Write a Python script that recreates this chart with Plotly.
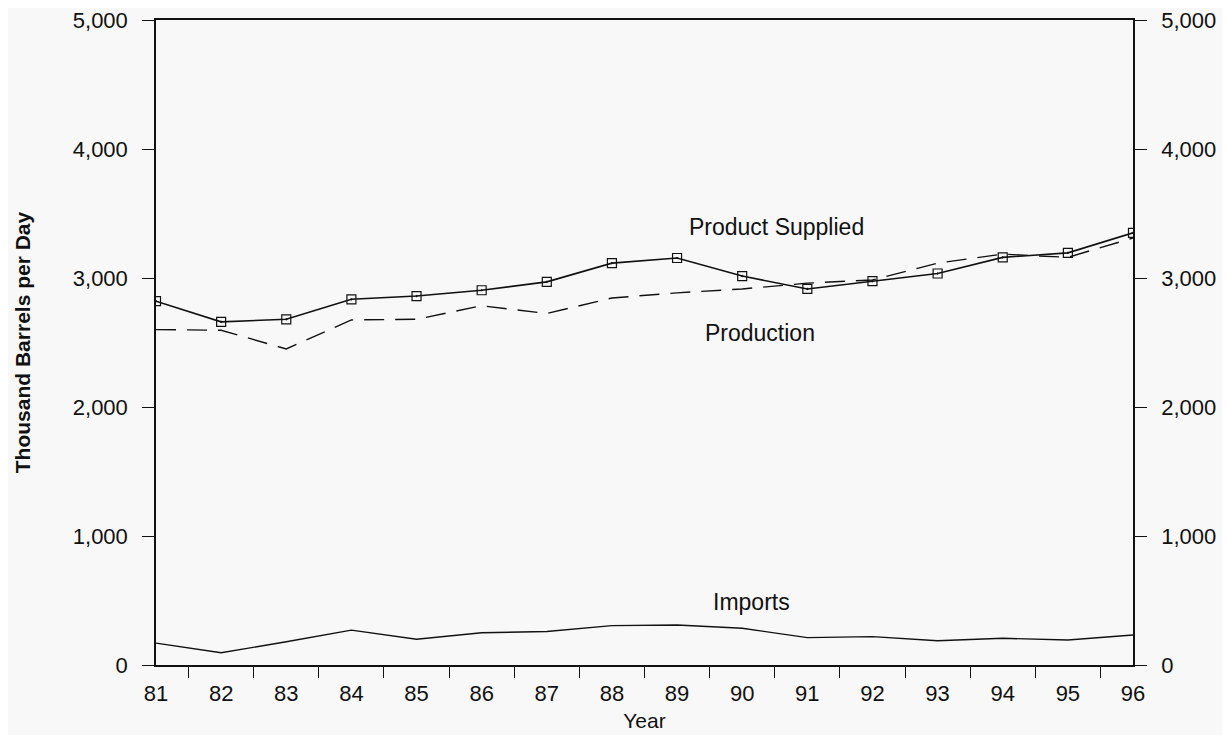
import plotly.graph_objects as go

# Years (two-digit labels) and series, thousand barrels per day
years = list(range(81, 97))
year_labels = [str(y) for y in years]

product_supplied = [2820, 2660, 2680, 2835, 2860, 2905, 2970, 3115, 3155, 3015, 2915,
                    2975, 3035, 3160, 3195, 3350]
production = [2600, 2595, 2450, 2675, 2680, 2785, 2725, 2845, 2885, 2915, 2960,
              2985, 3115, 3185, 3160, 3310]
imports = [170, 95, 180, 270, 200, 250, 260, 305, 310, 285, 212,
           220, 188, 207, 194, 233]

y_ticks = [0, 1000, 2000, 3000, 4000, 5000]
minor_ticks = [y + 0.5 for y in years[:-1]]

FONT = "Liberation Sans, Arial, sans-serif"
INK = "#111111"
BG = "#f8f8f8"

fig = go.Figure()

fig.add_trace(go.Scatter(
    x=years, y=product_supplied, name="Product Supplied", mode="lines+markers",
    line=dict(color=INK, width=1.6),
    marker=dict(symbol="square-open-dot", size=9, color=INK, line=dict(width=1.2)),
))
fig.add_trace(go.Scatter(
    x=years, y=production, name="Production", mode="lines",
    line=dict(color=INK, width=1.4, dash="20px,11px"),
))
fig.add_trace(go.Scatter(
    x=years, y=imports, name="Imports", mode="lines",
    line=dict(color=INK, width=1.4),
))
# invisible copy so the right-hand axis gets drawn
fig.add_trace(go.Scatter(
    x=years, y=imports, yaxis="y2", mode="lines", line=dict(width=0),
    opacity=0, hoverinfo="skip", showlegend=False,
))

# series labels placed in data coordinates
lab_font = dict(size=23, color=INK, family=FONT)
fig.add_annotation(x=90.53, y=3395, text="Product Supplied", showarrow=False, font=lab_font)
fig.add_annotation(x=90.27, y=2574, text="Production", showarrow=False, font=lab_font)
fig.add_annotation(x=90.15, y=488, text="Imports", showarrow=False, font=lab_font)

tick_font = dict(size=22, color=INK, family=FONT)

axis_y = dict(
    range=[0, 5000], tickvals=y_ticks, tickformat=",d",
    showgrid=False, zeroline=False, automargin=False,
    ticklabeloverflow="allow",
    showline=True, linecolor=INK, linewidth=1.5,
    ticks="outside", ticklen=12, tickwidth=1.2, tickcolor=INK,
    tickfont=tick_font,
)

fig.update_layout(
    width=1230, height=735,
    # page body adds an 8px offset, margins compensate
    margin=dict(l=148, r=105, t=12, b=78),
    paper_bgcolor=BG, plot_bgcolor=BG,
    font=dict(family=FONT, color=INK),
    showlegend=False,
    xaxis=dict(
        range=[81, 96], tickvals=years, ticktext=year_labels,
        showgrid=False, zeroline=False, automargin=False,
        showline=True, mirror=True, linecolor=INK, linewidth=1.5,
        ticks="", tickfont=tick_font, ticklabelstandoff=8,
        minor=dict(tickvals=minor_ticks, ticks="outside", ticklen=11,
                   tickwidth=1.2, tickcolor=INK, showgrid=False),
        title=dict(text="Year", font=dict(size=21, color=INK, family=FONT), standoff=8),
    ),
    yaxis=dict(
        **axis_y, ticklabelstandoff=10,
        title=dict(text="<b>Thousand Barrels per Day</b>",
                   font=dict(size=21, color=INK, family=FONT), standoff=36),
    ),
    yaxis2=dict(**axis_y, overlaying="y", side="right", matches="y", ticklabelstandoff=10),
)

fig.write_html("out.html")
